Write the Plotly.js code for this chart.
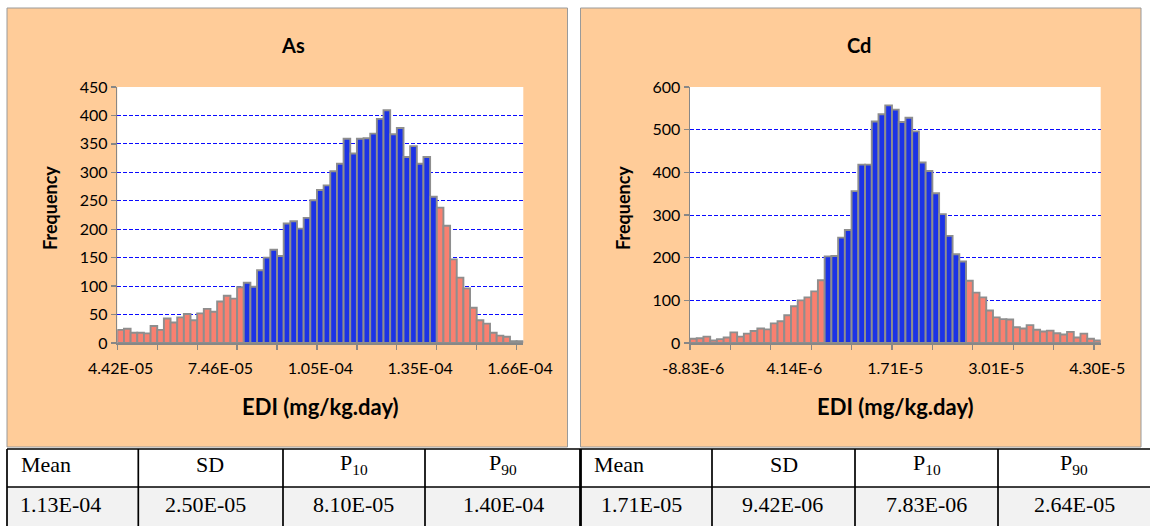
<!DOCTYPE html>
<html><head><meta charset="utf-8">
<script src="https://cdn.plot.ly/plotly-3.0.1.min.js"></script>
<style>html,body{margin:0;padding:0;background:#fff}#chart{width:1150px;height:526px}</style>
</head><body><div id="chart"></div>
<script>
// ---- data ----
const asCounts = [23,25,18,18,17,30,23,43,36,45,51,40,52,60,55,73,83,78,98,106,99,128,150,164,153,210,214,201,220,251,269,277,302,315,359,333,359,360,368,394,409,367,378,327,346,315,327,257,238,206,147,115,96,62,40,34,18,13,11,3,3];
const cdCounts = [10,11,15,6,9,13,25,15,22,28,34,32,46,51,65,86,100,107,121,147,203,204,247,265,356,418,418,519,536,557,547,518,528,496,423,403,351,302,251,208,191,146,118,107,76,60,56,55,37,34,42,31,27,29,23,20,26,13,22,10,6];
const labelBins = [0,15,30,45,60];
const asTickLabels = ['4.42E-05','7.46E-05','1.05E-04','1.35E-04','1.66E-04'];
const cdTickLabels = ['-8.83E-6','4.14E-6','1.71E-5','3.01E-5','4.30E-5'];
const asCentralBins = [19,47];   // bins between P10 and P90
const cdCentralBins = [20,40];
const statHeaders = ['Mean','SD','P<sub>10</sub>','P<sub>90</sub>'];
const asStats = ['1.13E-04','2.50E-05','8.10E-05','1.40E-04'];
const cdStats = ['1.71E-05','9.42E-06','7.83E-06','2.64E-05'];
const metals = ['As','Cd'];

// ---- style ----
const W = 1150, H = 526;
const px = x => x / W, py = y => 1 - y / H;
const BLUE = '#1C33E6', PINK = '#F98070', ORANGE = '#FFCC99', AXIS = '#878787';
const tickFont = {family:'Lato, sans-serif', size:16, color:'#000'};

function colorsFor(counts, range){
  return counts.map((_, i) => (i >= range[0] && i <= range[1]) ? BLUE : PINK);
}
function barTrace(counts, range, xa, ya){
  return {type:'bar', y:counts, xaxis:xa, yaxis:ya,
    marker:{color:colorsFor(counts, range), line:{color:'#8E8E8E', width:1.9}},
    hoverinfo:'skip', showlegend:false};
}
function xAxis(domain, labels, n){
  return {domain:domain, range:[-0.5, n-0.5], fixedrange:true,
    tickmode:'array', tickvals:labelBins, ticktext:labels, ticks:'', ticklabelstandoff:10,
    tickfont:tickFont, showgrid:false, zeroline:false,
    showline:true, linecolor:AXIS, linewidth:2,
    minor:{ticks:'outside', tick0:-0.5, dtick:6, ticklen:5, tickcolor:AXIS, tickwidth:1.3, showgrid:false}};
}
function yAxis(max, step){
  return {domain:[py(343), py(87)], range:[0,max], dtick:step, fixedrange:true,
    ticks:'outside', ticklen:5, tickcolor:AXIS, tickwidth:1.3, tickfont:tickFont,
    showline:true, linecolor:AXIS, linewidth:1.5,
    showgrid:true, gridcolor:'#0A0AFF', gridwidth:1, griddash:'4px,2px', zeroline:false};
}

const data = [
  barTrace(asCounts, asCentralBins, 'x', 'y'),
  barTrace(cdCounts, cdCentralBins, 'x2', 'y2')
];

const shapes = [];
const annotations = [];
// panels
[[7,567.5],[580.5,1141]].forEach(([x0,x1]) => {
  shapes.push({type:'rect', xref:'paper', yref:'paper', x0:px(x0), x1:px(x1), y0:py(447), y1:py(8),
    fillcolor:ORANGE, line:{color:'#9A9A9A', width:1}, layer:'below'});
});
// white plot areas
[['x','y'],['x2','y2']].forEach(([xa,ya]) => {
  shapes.push({type:'rect', xref:xa+' domain', yref:ya+' domain', x0:0, x1:1, y0:0, y1:1,
    fillcolor:'#fff', line:{width:0}, layer:'below'});
});
// titles
const panelCenters = [293, 859];
const plotCenters = [320.3, 895.4];
const yTitleX = [50, 623];
metals.forEach((m, k) => {
  annotations.push({text:'<b>'+m+'</b>', xref:'paper', yref:'paper', x:px(panelCenters[k]), y:py(45),
    showarrow:false, xanchor:'center', yanchor:'middle', font:{family:'Lato, sans-serif', size:20, color:'#000'}});
  annotations.push({text:'<b>EDI (mg/kg.day)</b>', xref:'paper', yref:'paper', x:px(plotCenters[k]), y:py(406),
    showarrow:false, xanchor:'center', yanchor:'middle', font:{family:'Lato, sans-serif', size:22, color:'#000'}});
  annotations.push({text:'<b>Frequency</b>', xref:'paper', yref:'paper', x:px(yTitleX[k]), y:py(208),
    showarrow:false, textangle:-90, xanchor:'center', yanchor:'middle', font:{family:'Lato, sans-serif', size:18, color:'#000'}});
});

// table
shapes.push({type:'rect', xref:'paper', yref:'paper', x0:px(7), x1:px(1150), y0:py(526), y1:py(487),
  fillcolor:'#F2F2F2', line:{width:0}});
[449, 487].forEach(y => shapes.push({type:'line', xref:'paper', yref:'paper', x0:px(7), x1:px(1150), y0:py(y), y1:py(y),
  line:{color:'#000', width:1.7}}));
[[7,1.7],[138.3,1.7],[283,1.7],[425,1.7],[580.5,2.8],[712,1.7],[855,1.7],[998,1.7]].forEach(([x,w]) =>
  shapes.push({type:'line', xref:'paper', yref:'paper', x0:px(x), x1:px(x), y0:py(526), y1:py(449), line:{color:'#000', width:w}}));

const tableFont = {family:'"Liberation Serif", "Times New Roman", serif', size:22, color:'#000'};
const colPos = [
  [[19,'left'],[210,'center'],[353.5,'center'],[502.5,'center']],
  [[592,'left'],[783.5,'center'],[926.5,'center'],[1074,'center']]
];
const valPos = [
  [[18,'left'],[205,'center'],[353,'center'],[503,'center']],
  [[599,'left'],[782,'center'],[926.5,'center'],[1074,'center']]
];
[asStats, cdStats].forEach((vals, k) => {
  statHeaders.forEach((h, i) => {
    annotations.push({text:h, xref:'paper', yref:'paper', x:px(colPos[k][i][0]), y:py(464),
      xanchor:colPos[k][i][1], yanchor:'middle', showarrow:false, font:tableFont});
    annotations.push({text:vals[i], xref:'paper', yref:'paper', x:px(valPos[k][i][0]), y:py(504),
      xanchor:valPos[k][i][1], yanchor:'middle', showarrow:false, font:tableFont});
  });
});

const layout = {
  width:W, height:H, margin:{l:0,r:0,t:0,b:0},
  paper_bgcolor:'#fff', plot_bgcolor:'#fff', bargap:0,
  font:{family:'Lato, sans-serif', color:'#000'},
  xaxis: xAxis([px(117.3), px(523.3)], asTickLabels, asCounts.length),
  yaxis: yAxis(450, 50),
  xaxis2: Object.assign(xAxis([px(690), px(1100.7)], cdTickLabels, cdCounts.length), {anchor:'y2'}),
  yaxis2: Object.assign(yAxis(600, 100), {anchor:'x2'}),
  shapes:shapes, annotations:annotations
};
layout.xaxis.anchor = 'y';
layout.yaxis.anchor = 'x';
Plotly.newPlot('chart', data, layout, {staticPlot:true, displayModeBar:false});
</script>
</body></html>
